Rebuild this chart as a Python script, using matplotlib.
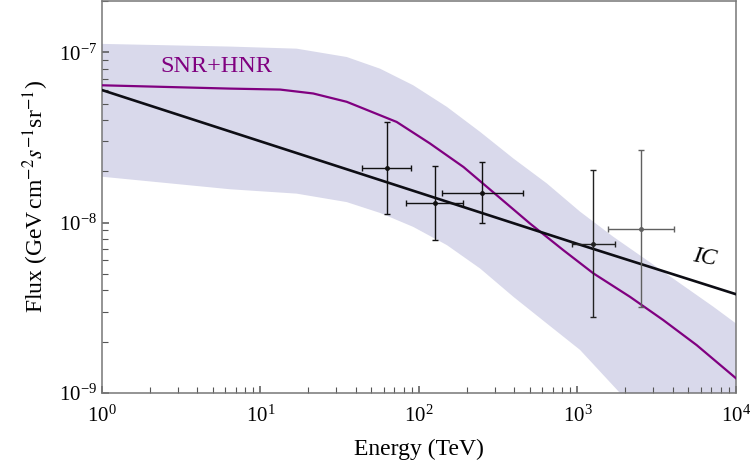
import matplotlib
matplotlib.use("Agg")
import matplotlib.pyplot as plt
import numpy as np
from matplotlib.ticker import LogLocator, NullFormatter, LogFormatterMathtext

# SNR+HNR model curve
energy_snr = [1, 6.43, 13.3, 21.5, 35.0, 56.8, 72.3, 117, 191, 309, 501, 813, 1259, 2143, 3475, 5649, 10000]
flux_snr = [6.40e-8, 6.12e-8, 6.04e-8, 5.73e-8, 5.12e-8, 4.27e-8, 3.90e-8, 2.92e-8, 2.12e-8,
            1.45e-8, 9.89e-9, 6.90e-9, 5.04e-9, 3.67e-9, 2.68e-9, 1.91e-9, 1.22e-9]

# uncertainty band of SNR+HNR
energy_band_up = [1, 6.43, 16.9, 35.0, 56.8, 92.0, 150, 243, 394, 640, 1038, 1683, 2735, 4436, 7194, 10000]
flux_band_up = [1.12e-7, 1.08e-7, 1.05e-7, 9.38e-8, 8.01e-8, 6.40e-8, 4.78e-8, 3.41e-8, 2.38e-8,
                1.70e-8, 1.16e-8, 8.26e-9, 6.03e-9, 4.40e-9, 3.21e-9, 2.56e-9]
energy_band_low = [1, 6.43, 16.9, 35.0, 56.8, 92.0, 150, 243, 394, 640, 1038, 1854, 10000]
flux_band_low = [1.86e-8, 1.57e-8, 1.48e-8, 1.32e-8, 1.14e-8, 9.44e-9, 7.38e-9, 5.38e-9, 3.67e-9,
                 2.56e-9, 1.79e-9, 1.0e-9, 3.0e-10]

# inverse Compton
energy_ic = [1, 10, 100, 1000, 10000]
flux_ic = [6.0e-8, 3.0e-8, 1.5e-8, 7.5e-9, 3.8e-9]

# measured points
energy_pts = [63, 126, 251, 1253, 2502]
flux_pts = [2.1e-8, 1.30e-8, 1.50e-8, 7.5e-9, 9.2e-9]
energy_lo = [44, 83, 140, 919, 1550]
energy_hi = [89, 190, 451, 1733, 4064]
flux_lo = [1.13e-8, 7.9e-9, 9.9e-9, 2.78e-9, 3.2e-9]
flux_hi = [3.9e-8, 2.14e-8, 2.27e-8, 2.03e-8, 2.66e-8]
point_colors = ["#111111", "#111111", "#111111", "#222222", "#606060"]

plt.rcParams["font.family"] = ["Liberation Serif", "DejaVu Serif"]
plt.rcParams["mathtext.fontset"] = "stix"

fig = plt.figure(figsize=(7.55, 4.72), dpi=100)
ax = fig.add_axes([0.1351, 0.1674, 0.8397, 0.8305])

# band
band_x = list(energy_band_up) + list(energy_band_low[::-1])
band_y = list(flux_band_up) + list(flux_band_low[::-1])
ax.fill(band_x, band_y, color="#d9d9eb", lw=0, zorder=1)

ax.plot(energy_snr, flux_snr, color="#800080", lw=1.6, zorder=3)
ax.plot(energy_ic, flux_ic, color="#0d0d14", lw=1.9, zorder=3)

for i in range(len(energy_pts)):
    e, f = energy_pts[i], flux_pts[i]
    ax.errorbar([e], [f],
                xerr=[[e - energy_lo[i]], [energy_hi[i] - e]],
                yerr=[[f - flux_lo[i]], [flux_hi[i] - f]],
                fmt="o", ms=2.5, color=point_colors[i], ecolor=point_colors[i],
                elinewidth=1.0, capsize=2.0, capthick=1.0, zorder=4)

ax.set_xscale("log")
ax.set_yscale("log")
ax.set_xlim(1, 1e4)
ax.set_ylim(1e-9, 2e-7)

ax.xaxis.set_major_locator(LogLocator(base=10, numticks=10))
ax.xaxis.set_minor_locator(LogLocator(base=10, subs=np.arange(2, 10), numticks=20))
ax.yaxis.set_major_locator(LogLocator(base=10, numticks=10))
ax.yaxis.set_minor_locator(LogLocator(base=10, subs=np.arange(2, 10), numticks=20))
ax.xaxis.set_major_formatter(LogFormatterMathtext())
ax.yaxis.set_major_formatter(LogFormatterMathtext())
ax.xaxis.set_minor_formatter(NullFormatter())
ax.yaxis.set_minor_formatter(NullFormatter())

ax.tick_params(which="both", direction="in", top=False, right=False,
               colors="#555555", labelcolor="black", labelsize=15)
ax.tick_params(axis="x", which="major", pad=9)
ax.tick_params(which="major", length=5, width=1.1)
ax.tick_params(which="minor", length=4.5, width=0.8)
for sp in ax.spines.values():
    sp.set_color("#777777")
    sp.set_linewidth(1.1)

ax.set_xlabel("Energy (TeV)", fontsize=17, labelpad=9)
ax.set_ylabel(r"Flux (GeV$\,$cm$^{-2}$$s^{-1}$sr$^{-1}$)", fontsize=17, labelpad=6)

ax.text(0.0915, 0.832, "SNR+HNR", transform=ax.transAxes, color="#800080",
        fontsize=17.5, va="center", ha="left")
ax.text(0.950, 0.345, "IC", transform=ax.transAxes, color="black", fontsize=17,
        style="italic", va="center", ha="center", rotation=-10)

fig.savefig("out.png", dpi=100)
